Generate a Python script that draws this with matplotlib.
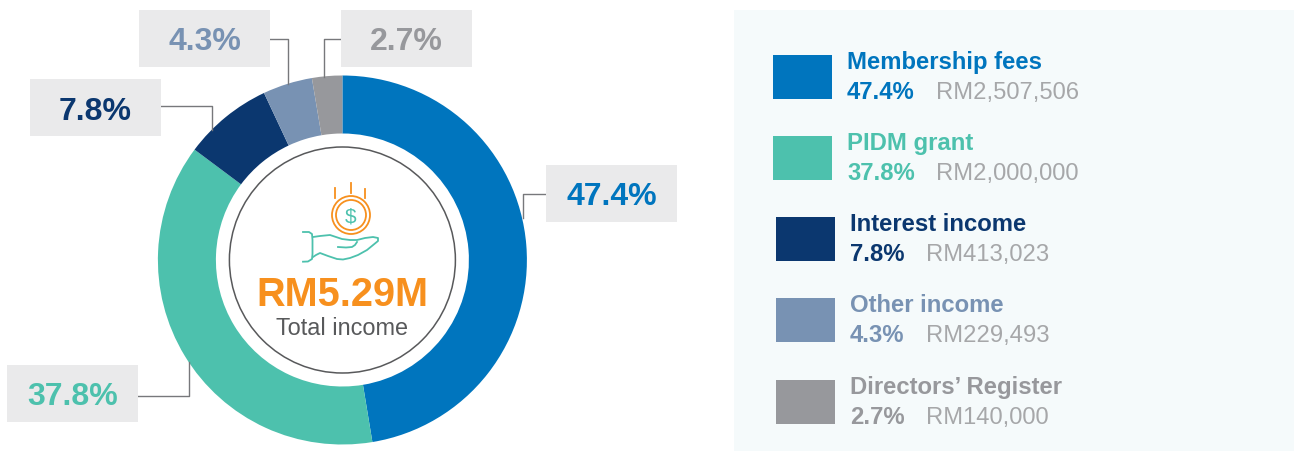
import matplotlib
matplotlib.use('Agg')
import matplotlib.pyplot as plt
from matplotlib.patches import Circle, Rectangle

plt.rcParams['font.family'] = ['Liberation Sans', 'DejaVu Sans']

categories = ['Membership fees', 'PIDM grant', 'Interest income', 'Other income', "Directors\u2019 Register"]
amounts = [2507506, 2000000, 413023, 229493, 140000]
shares = [47.4, 37.8, 7.8, 4.3, 2.7]
total_label = 'RM5.29M'
total_caption = 'Total income'

colors = ['#0075BE', '#4DC1AD', '#0B376F', '#7892B3', '#97989C']
BOX = '#EAEAEB'
PANEL = '#F5FAFB'
LINE = '#77787B'
VALUE = '#A6A7A9'
ORANGE = '#F7901E'
TEAL = '#4DC1AD'

# axes are in image pixels, y going down
fig = plt.figure(figsize=(12.94, 4.52), dpi=100)
ax = fig.add_axes([0, 0, 1, 1])

CX, CY, R = 342.4, 260, 184.5
ax.pie(amounts, colors=colors, center=(CX, CY), radius=R, startangle=-90, counterclock=True,
       wedgeprops={'width': 58, 'linewidth': 0})
ax.set_xlim(0, 1294)
ax.set_ylim(451, -1)
ax.set_aspect('equal')
ax.axis('off')

ax.add_patch(Circle((CX, CY), 113, fill=False, ec='#58595B', lw=1.1))

# callout boxes: (left, top) of box and the leader line
callouts = [
    ((546, 165), [(546, 194), (523, 194), (523, 218)]),
    ((7, 365), [(138, 396), (189, 396), (189, 362)]),
    ((30, 79), [(161, 106), (212, 106), (212, 130)]),
    ((139, 10), [(270, 39), (288, 39), (288, 84)]),
    ((341, 10), [(342, 39), (324, 39), (324, 77)]),
]
for i, (corner, leader) in enumerate(callouts):
    ax.add_patch(Rectangle(corner, 131, 57, fc=BOX, ec='none', zorder=3))
    ax.plot([p[0] for p in leader], [p[1] for p in leader], color=LINE, lw=1, zorder=1)
    ax.text(corner[0] + 65.5, corner[1] + 39.5, '{}%'.format(shares[i]), color=colors[i],
            fontsize=23, fontweight='bold', ha='center', va='baseline', zorder=4)

# legend panel
ax.add_patch(Rectangle((734, 10), 560, 442, fc=PANEL, ec='none', zorder=0))
legend_rows = [
    (773, 55, 847, 936),
    (773, 136, 847, 936),
    (776, 217, 850, 926),
    (776, 298, 850, 926),
    (776, 380, 850, 926),
]
for i, (sx, sy, tx, vx) in enumerate(legend_rows):
    ax.add_patch(Rectangle((sx, sy), 59, 44, fc=colors[i], ec='none', zorder=1))
    ax.text(tx, sy + 13.5, categories[i], color=colors[i], fontsize=17.2, fontweight='bold',
            va='baseline', zorder=2)
    ax.text(tx, sy + 43, '{}%'.format(shares[i]), color=colors[i], fontsize=17.2, fontweight='bold',
            va='baseline', zorder=2)
    ax.text(vx, sy + 43, 'RM{:,}'.format(amounts[i]), color=VALUE, fontsize=17.1,
            va='baseline', zorder=2)

# centre text
ax.text(342.5, 305, total_label, color=ORANGE, fontsize=28.6, fontweight='bold', ha='center', va='baseline')
ax.text(342.5, 334, total_caption, color='#58595B', fontsize=16.9, ha='center', va='baseline')

# coin icon
ax.add_patch(Circle((351, 215), 19, fill=False, ec=ORANGE, lw=1.3))
ax.add_patch(Circle((351, 215), 15, fill=False, ec=ORANGE, lw=1.3))
ax.text(351, 216, '$', color=TEAL, fontsize=15, ha='center', va='center')
for x0, y0, y1 in [(335, 188, 198), (351, 183, 193), (364.7, 189, 198)]:
    ax.plot([x0, x0], [y0, y1], color=ORANGE, lw=1.3)

# hand icon
hand = [
    [(303, 232), (309, 232), (312, 234), (312.5, 240), (312.5, 254), (312, 259), (308, 261.5), (303, 261.7)],
    [(313, 237), (320, 236), (330, 235), (342, 239), (350, 240), (357, 240), (365, 238), (373, 237),
     (378, 238), (378, 241), (367, 250), (358, 255), (350, 258), (343, 259.5), (337, 259), (328, 256),
     (320, 253), (316, 255), (313, 257)],
    [(338, 247), (346, 247.5), (352, 247), (355, 245), (357, 242)],
]
for part in hand:
    ax.plot([p[0] for p in part], [p[1] for p in part], color=TEAL, lw=1.3, solid_joinstyle='round')

fig.savefig('out.png', dpi=100)
